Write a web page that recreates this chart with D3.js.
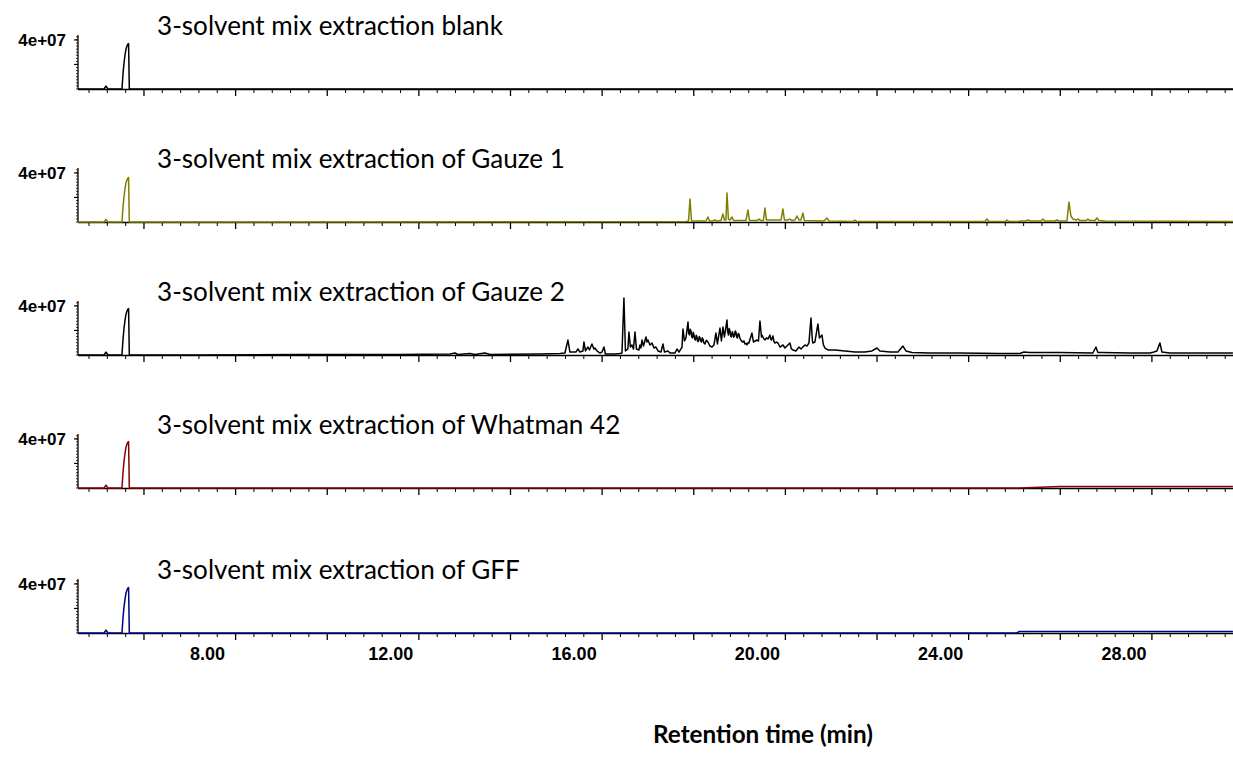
<!DOCTYPE html>
<html><head><meta charset="utf-8">
<script src="https://cdn.jsdelivr.net/npm/d3@7"></script>
<style>
html,body{margin:0;padding:0;background:#fff;}
svg{display:block;}
</style></head>
<body>
<svg id="chart" width="1233" height="765"></svg>
<script>
// ---------- DATA (time in min, abundance in millions) ----------
const sampleNames = [
  "3-solvent mix extraction blank",
  "3-solvent mix extraction of Gauze 1",
  "3-solvent mix extraction of Gauze 2",
  "3-solvent mix extraction of Whatman 42",
  "3-solvent mix extraction of GFF"
];
const sampleColors = ["#000000", "#808000", "#000000", "#8b0000", "#00008b"];
const xTickLabels = ["8.00", "12.00", "16.00", "20.00", "24.00", "28.00"];
const xTickLabelValues = [8, 12, 16, 20, 24, 28];
const yTickLabel = "4e+07";
const yTickLabelValue = 4e7;
const xAxisTitle = "Retention time (min)";

const blankTrace = [
  [4.56,0],[5.127,0],[5.171,2.4],[5.215,0],[5.509,0],
  [5.520,0],[5.542,12.2],[5.564,21.2],[5.586,27.7],[5.608,32.6],[5.629,35.0],[5.651,36.7],[5.664,37.0],[5.680,0],
  [29.768,0]
];
const gauze1Trace = [
  [4.56,0],[5.127,0],[5.171,2.0],[5.215,0],[5.509,0],
  [5.520,0],[5.542,11.9],[5.564,20.7],[5.586,27.1],[5.608,31.9],[5.629,34.3],[5.651,35.9],[5.664,36.2],[5.680,0],
  [17.830,0.4],[17.885,0.8],[17.918,18.7],[17.951,0.8],[18.266,0.8],[18.310,4.1],[18.343,0.8],
  [18.419,0.8],[18.463,1.6],[18.506,0.8],[18.594,1.2],[18.637,6.5],[18.670,1.6],[18.703,1.6],
  [18.725,23.6],[18.757,2.4],[18.790,1.6],[18.834,4.1],[18.867,1.2],[19.139,1.2],[19.183,9.8],
  [19.216,1.2],[19.379,1.2],[19.423,2.4],[19.467,1.2],[19.521,1.2],[19.554,11.4],[19.587,1.6],
  [19.903,1.6],[19.947,10.6],[19.979,1.6],[20.056,1.6],[20.099,2.4],[20.143,1.2],[20.208,1.6],
  [20.252,4.9],[20.296,1.6],[20.339,1.6],[20.383,7.3],[20.416,1.2],[20.841,0.8],[20.907,3.3],
  [20.951,0.8],[21.475,0.4],[21.518,1.6],[21.562,0.4],[22.500,0.4],[24.355,0.4],[24.399,2.4],
  [24.443,0.4],[24.792,0.4],[24.836,1.6],[24.879,0.4],[25.076,0.4],[25.119,0.8],[25.250,0.8],
  [25.294,1.6],[25.338,0.8],[25.578,0.8],[25.622,2.4],[25.665,0.8],[25.884,0.8],[25.928,1.6],
  [25.971,0.8],[26.146,0.8],[26.189,16.3],[26.233,4.9],[26.277,2.4],[26.342,1.6],[26.386,2.4],
  [26.430,1.2],[26.561,1.2],[26.604,2.4],[26.648,1.2],[26.757,1.2],[26.801,3.3],[26.845,1.2],
  [26.976,0.8],[29.768,0.4]
];
const gauze2Trace = [
  [4.56,0],[5.127,0],[5.171,2.4],[5.215,0],[5.509,0],
  [5.520,0],[5.542,12.5],[5.564,21.7],[5.586,28.3],[5.608,33.3],[5.629,35.8],[5.651,37.5],[5.664,37.8],[5.680,0],
  [7.223,0],[9.405,0.4],[11.588,0.4],[12.679,0.8],[12.788,1.6],[12.853,0.4],[13.115,1.2],[13.225,0.4],
  [13.443,1.6],[13.552,0.4],[14.643,0.8],[15.08,1.2],[15.188,1.6],[15.254,12.2],[15.297,2.4],[15.428,2.4],
  [15.472,4.9],[15.516,2.4],[15.581,3.3],[15.603,10.6],[15.636,3.3],[15.690,6.5],[15.723,4.1],[15.778,9.0],
  [15.821,4.9],[15.843,5.7],[15.887,3.3],[15.953,1.6],[15.996,2.4],[16.040,6.5],[16.072,0.8],[16.280,0.8],
  [16.389,1.2],[16.433,1.6],[16.476,46.5],[16.509,3.3],[16.563,4.9],[16.585,18.7],[16.618,6.5],[16.651,8.2],
  [16.684,4.9],[16.717,18.7],[16.749,4.9],[16.804,4.1],[16.826,8.2],[16.848,5.7],[16.870,12.2],[16.902,7.3],
  [16.957,14.7],[16.979,10.6],[17.001,12.2],[17.044,8.2],[17.088,9.8],[17.132,5.7],[17.175,6.5],[17.219,3.3],
  [17.284,2.4],[17.328,9.0],[17.361,2.4],[17.437,3.3],[17.481,1.6],[17.590,1.6],[17.634,4.9],[17.678,2.4],
  [17.743,6.5],[17.765,21.2],[17.798,11.4],[17.830,13.9],[17.874,26.9],[17.890,17.5],[17.907,16.3],[17.922,21.0],
  [17.940,19.6],[17.956,15.0],[17.972,13.9],[17.988,18.5],
  [18.005,16.3],[18.020,13.0],[18.038,12.2],[18.054,16.0],[18.070,14.7],[18.086,11.0],[18.103,11.4],[18.120,15.0],
  [18.135,13.9],[18.150,11.5],[18.168,10.6],[18.185,14.0],[18.201,13.0],[18.220,10.0],[18.244,9.0],[18.275,12.0],
  [18.310,10.6],[18.353,7.3],[18.397,6.5],[18.441,8.2],[18.484,17.9],[18.517,9.0],[18.572,22.0],[18.604,11.4],
  [18.637,22.8],[18.670,14.7],[18.725,28.5],[18.740,19.0],[18.757,16.3],[18.773,21.5],[18.790,19.6],[18.806,15.5],
  [18.823,14.7],[18.840,19.0],[18.855,17.9],[18.872,14.5],[18.888,15.5],[18.905,19.5],
  [18.921,18.7],[18.937,14.5],[18.954,13.9],[18.970,17.5],[18.986,17.1],[19.008,13.5],[19.030,12.2],[19.052,11.0],
  [19.074,10.6],[19.095,11.5],[19.117,9.0],[19.140,9.5],[19.161,8.2],[19.183,10.0],[19.204,9.8],
  [19.270,17.9],[19.303,10.6],[19.379,12.2],[19.412,11.4],[19.445,27.7],[19.478,14.7],[19.495,16.0],[19.510,14.7],
  [19.532,13.0],[19.554,12.2],[19.587,14.0],[19.619,13.0],[19.663,16.3],[19.680,13.0],[19.696,12.2],[19.728,15.5],
  [19.750,11.0],[19.772,9.8],[19.805,10.5],[19.838,9.8],[19.881,6.5],[19.947,8.2],
  [19.990,5.7],[20.099,9.8],[20.132,4.9],[20.164,4.1],[20.230,3.3],[20.296,6.5],[20.339,4.9],[20.427,8.2],
  [20.470,7.3],[20.514,9.8],[20.558,30.2],[20.590,11.4],[20.601,9.8],[20.645,10.6],[20.710,25.3],[20.743,13.9],
  [20.798,16.3],[20.830,8.2],[20.863,5.7],[20.929,4.1],[21.081,4.1],[21.300,3.3],[21.518,2.4],[21.736,2.4],
  [21.889,3.3],[21.998,5.7],[22.064,3.3],[22.282,2.4],[22.457,2.4],[22.565,7.3],[22.631,3.3],[22.762,2.0],
  [23.155,1.6],[23.810,1.6],[24.683,1.2],[25.119,1.2],[25.207,2.4],[25.338,2.0],[25.993,2.0],[26.712,1.6],
  [26.778,6.5],[26.821,2.0],[26.909,2.0],[27.520,1.6],[27.957,1.6],[28.044,2.4],[28.109,3.3],[28.175,9.8],
  [28.219,2.4],[28.393,1.6],[29.768,1.6]
];
const whatmanTrace = [
  [4.56,0],[5.127,0],[5.171,2.4],[5.215,0],[5.509,0],
  [5.520,0],[5.542,12.5],[5.564,21.7],[5.586,28.3],[5.608,33.3],[5.629,35.8],[5.651,37.5],[5.664,37.8],[5.680,0],
  [25.119,0],[25.993,1.2],[29.768,1.2]
];
const gffTrace = [
  [4.56,0],[5.127,0],[5.171,2.4],[5.215,0],[5.509,0],
  [5.520,0],[5.542,12.2],[5.564,21.2],[5.586,27.7],[5.608,32.6],[5.629,35.0],[5.651,36.7],[5.664,37.0],[5.680,0],
  [25.050,0],[25.100,1.2],[29.768,1.2]
];
const traces = [blankTrace, gauze1Trace, gauze2Trace, whatmanTrace, gffTrace];

// ---------- LAYOUT ----------
const svg = d3.select("#chart");
const W = 1233;
const axisLeft = 78;
const panelBaselines = [89, 222, 355, 488, 633];
const panelHeight = 54;
const x = d3.scaleLinear().domain([4.56, 29.77]).range([axisLeft, W]);
const minorX = d3.range(4.8, 29.77, 0.4);
const majorX = d3.range(6, 29, 2);

const titleFont = "Lato, 'Open Sans', sans-serif";

sampleNames.forEach((name, i) => {
  const base = panelBaselines[i];
  const y = d3.scaleLinear().domain([0, 4.4e7]).range([base, base - panelHeight]);
  const g = svg.append("g");

  // x axis line & ticks
  g.append("line").attr("x1", axisLeft).attr("x2", W).attr("y1", base + 0.5).attr("y2", base + 0.5)
    .attr("stroke", "#000").attr("stroke-width", 1.3);
  g.selectAll(".mnx").data(minorX.filter(v => Math.abs(v / 2 - Math.round(v / 2)) > 0.01)).join("line")
    .attr("x1", d => x(d)).attr("x2", d => x(d)).attr("y1", base).attr("y2", base + 4)
    .attr("stroke", "#000").attr("stroke-width", 1);
  g.selectAll(".mjx").data(majorX).join("line")
    .attr("x1", d => x(d)).attr("x2", d => x(d)).attr("y1", base).attr("y2", base + 7)
    .attr("stroke", "#000").attr("stroke-width", 1.3);

  // y axis
  g.append("line").attr("x1", axisLeft).attr("x2", axisLeft).attr("y1", base).attr("y2", base - panelHeight)
    .attr("stroke", "#000").attr("stroke-width", 1.3);
  const yMinor = d3.range(0, 4.4e7, 2.5e6);
  g.selectAll(".mny").data(yMinor).join("line")
    .attr("x1", axisLeft - 2).attr("x2", axisLeft).attr("y1", d => y(d)).attr("y2", d => y(d))
    .attr("stroke", "#000").attr("stroke-width", 0.8);
  g.selectAll(".mjy").data([2e7, 4e7]).join("line")
    .attr("x1", axisLeft - 4).attr("x2", axisLeft).attr("y1", d => y(d)).attr("y2", d => y(d))
    .attr("stroke", "#000").attr("stroke-width", 1.2);
  g.append("text").attr("x", axisLeft - 12).attr("y", y(yTickLabelValue)).attr("dy", "0.36em")
    .attr("text-anchor", "end").attr("font-family", "'Liberation Sans', Arial, sans-serif")
    .attr("font-weight", "bold").attr("font-size", 17).text(yTickLabel);

  // trace
  const line = d3.line().x(d => x(d[0])).y(d => y(d[1] * 1e6));
  g.append("path").datum(traces[i]).attr("d", line).attr("fill", "none")
    .attr("stroke", sampleColors[i]).attr("stroke-width", 1.5).attr("stroke-linejoin", "round");

  // title
  g.append("text").attr("class", "ptitle").attr("x", 157).attr("y", base - 54)
    .attr("font-family", titleFont).attr("font-size", 26).attr("fill", "#000").text(name);
});

// fit title font size so the first title spans the reference width
const firstTitle = svg.select(".ptitle").node();
const w26 = firstTitle.getComputedTextLength();
const fs = 26 * 346 / w26;
svg.selectAll(".ptitle").attr("font-size", fs);

// x tick labels at bottom
const lastBase = panelBaselines[panelBaselines.length - 1];
svg.append("g").selectAll("text").data(xTickLabelValues).join("text")
  .attr("x", d => x(d) - 28).attr("y", lastBase + 27)
  .attr("text-anchor", "middle").attr("font-family", "'Liberation Sans', Arial, sans-serif")
  .attr("font-weight", "bold").attr("font-size", 18).text((d, i) => xTickLabels[i]);

// axis title
const at = svg.append("text").attr("x", 763).attr("y", 743).attr("text-anchor", "middle")
  .attr("font-family", titleFont).attr("font-weight", "bold").attr("font-size", 24).text(xAxisTitle);
const aw = at.node().getComputedTextLength();
at.attr("font-size", 24 * 220 / aw);
</script>
</body></html>
